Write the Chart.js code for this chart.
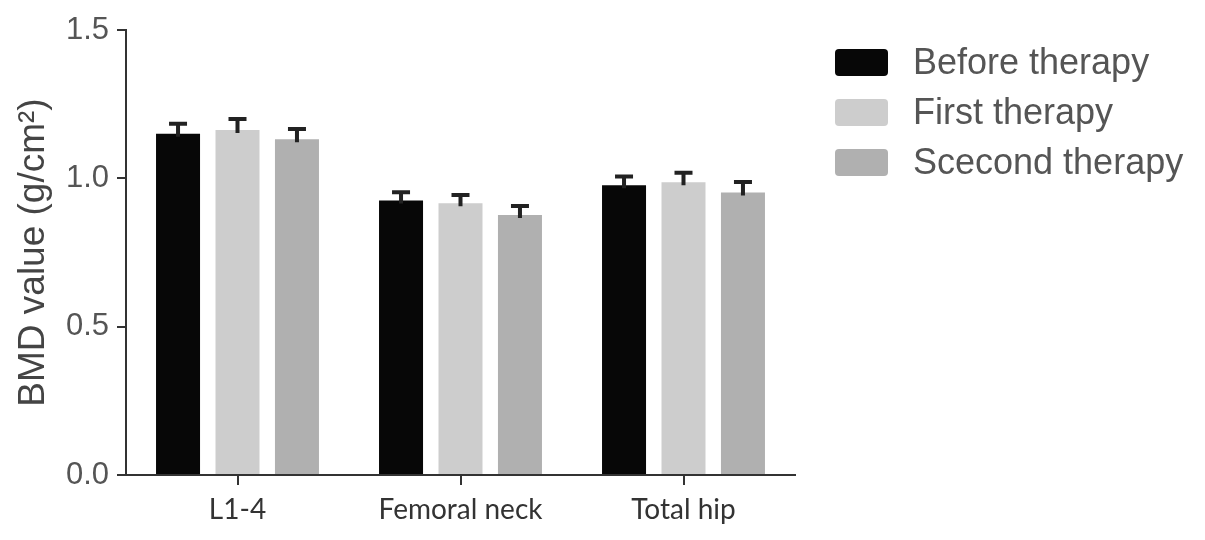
<!DOCTYPE html>
<html>
<head>
<meta charset="utf-8">
<script src="https://cdn.jsdelivr.net/npm/chart.js@4"></script>
<style>
  html, body { margin: 0; padding: 0; background: #fff; }
  #wrap { position: relative; width: 1205px; height: 540px; }
  #legend ul { list-style: none; margin: 0; padding: 0; }
  #legend li {
    display: flex; align-items: center; height: 50px;
    font-family: "Liberation Sans", Arial, sans-serif; font-size: 36px; color: #555;
  }
  #legend li span {
    display: inline-block; width: 53px; height: 27px; border-radius: 4px; margin-right: 25px;
  }
  #legend { position: absolute; left: 835px; top: 37px; }
</style>
</head>
<body>
<div id="wrap">
  <canvas id="chart-bmd" width="1205" height="540"></canvas>
  <div id="legend"></div>
</div>
<script>
let sites = ["L1-4", "Femoral neck", "Total hip"];
let seriesNames = ["Before therapy", "First therapy", "Scecond therapy"];
let beforeValues = [1.15, 0.925, 0.977];
let firstValues = [1.163, 0.916, 0.987];
let secondValues = [1.132, 0.876, 0.952];
let beforeErrors = [0.034, 0.028, 0.029];
let firstErrors = [0.037, 0.028, 0.032];
let secondErrors = [0.034, 0.031, 0.036];
let yTicks = [0, 0.5, 1.0, 1.5];
let barColors = ["#070707", "#cdcdcd", "#b0b0b0"];

let bmdData = {
  labels: sites,
  datasets: [
    { label: seriesNames[0], data: beforeValues, errors: beforeErrors, backgroundColor: barColors[0] },
    { label: seriesNames[1], data: firstValues, errors: firstErrors, backgroundColor: barColors[1] },
    { label: seriesNames[2], data: secondValues, errors: secondErrors, backgroundColor: barColors[2] },
  ],
};

// draws only the upper half of each error bar, like the original
let errorBars = {
  id: "errorBars",
  afterDatasetsDraw: function (chart) {
    let ctx = chart.ctx;
    let y = chart.scales.y;
    ctx.save();
    ctx.strokeStyle = "#222";
    ctx.lineWidth = 4;
    chart.data.datasets.forEach(function (ds, i) {
      chart.getDatasetMeta(i).data.forEach(function (bar, j) {
        let top = y.getPixelForValue(ds.data[j] + ds.errors[j]);
        let base = y.getPixelForValue(ds.data[j]) + 3;
        ctx.beginPath();
        ctx.moveTo(bar.x, base);
        ctx.lineTo(bar.x, top);
        ctx.moveTo(bar.x - 9, top);
        ctx.lineTo(bar.x + 9, top);
        ctx.stroke();
      });
    });
    ctx.restore();
  },
};

let customLegend = function (chart) {
  let ul = document.createElement("ul");
  chart.data.datasets.forEach(function (ds) {
    ul.innerHTML += `<li><span style="background-color: ${ds.backgroundColor}"></span>${ds.label}</li>`;
  });
  return ul.outerHTML;
};

window.onload = function () {
  let ctx = document.getElementById("chart-bmd").getContext("2d");
  let chart = new Chart(ctx, {
    type: "bar",
    data: bmdData,
    plugins: [errorBars],
    options: {
      responsive: false,
      animation: false,
      categoryPercentage: 0.8,
      barPercentage: 0.74,
      layout: { padding: { left: 12, right: 410, top: 30, bottom: 0 } },
      plugins: { legend: { display: false }, tooltip: { enabled: false } },
      scales: {
        x: {
          afterFit: function (scale) { scale.height = 65; },
          border: { color: "#333", width: 2 },
          grid: { offset: false, drawOnChartArea: false, tickLength: 10, color: "#333", lineWidth: 2 },
          ticks: { color: "#333", padding: 8, font: { family: "Lato", size: 28 } },
        },
        y: {
          min: 0,
          max: 1.5,
          afterFit: function (scale) { scale.width = 114; },
          afterBuildTicks: function (scale) {
            scale.ticks = yTicks.map(function (v) { return { value: v }; });
          },
          border: { color: "#333", width: 2 },
          grid: { drawOnChartArea: false, tickLength: 9, color: "#333", lineWidth: 2 },
          ticks: {
            color: "#555",
            padding: 8,
            font: { family: "Liberation Sans", size: 31 },
            callback: function (v) { return Number(v).toFixed(1); },
          },
          title: {
            display: true,
            text: "BMD value (g/cm²)",
            color: "#444",
            padding: { top: 0, bottom: 0 },
            font: { family: "Liberation Sans", size: 37 },
          },
        },
      },
    },
  });
  document.getElementById("legend").innerHTML = customLegend(chart);
};
</script>
</body>
</html>
